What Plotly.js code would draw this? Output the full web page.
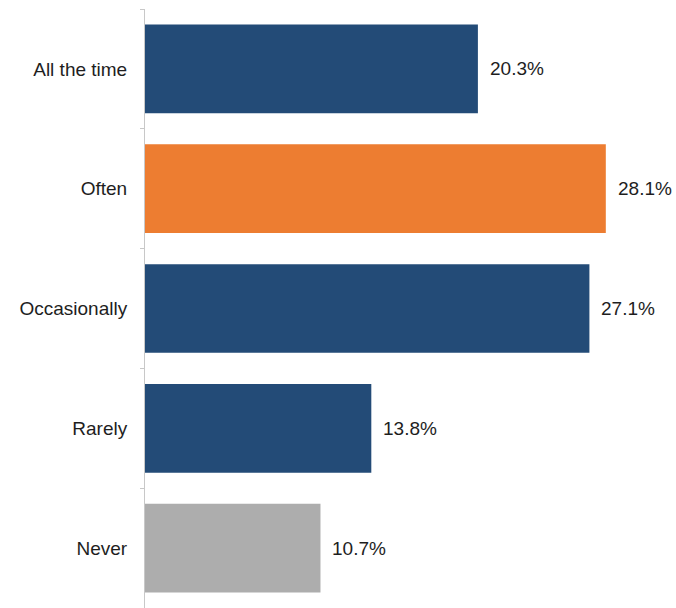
<!DOCTYPE html>
<html>
<head>
<meta charset="utf-8">
<script src="https://cdn.plot.ly/plotly-3.0.1.min.js"></script>
<style>html,body{margin:0;padding:0;background:#fff;}#chart{width:676px;height:608px;}</style>
</head>
<body>
<div id="chart"></div>
<script>
const categories = ["All the time", "Often", "Occasionally", "Rarely", "Never"];
const values = [20.3, 28.1, 27.1, 13.8, 10.7];
const valueLabels = ["20.3%", "28.1%", "27.1%", "13.8%", "10.7%"];
const barColors = ["#234B77", "#ED7D31", "#234B77", "#234B77", "#ADADAD"];

const fontFam = "Liberation Sans, Arial, sans-serif";

const trace = {
  type: "bar",
  orientation: "h",
  y: categories,
  x: values,
  marker: { color: barColors, line: { width: 0 } },
  hoverinfo: "none"
};

const annotations = categories.map((c, i) => ({
  x: values[i], y: c, xref: "x", yref: "y",
  text: valueLabels[i], showarrow: false,
  xanchor: "left", yanchor: "middle", xshift: 10,
  font: { family: fontFam, size: 19, color: "#1e1e1e" }
}));

const layout = {
  width: 676, height: 608,
  margin: { l: 145, r: 0, t: 9, b: 0 },
  paper_bgcolor: "#fff", plot_bgcolor: "#fff",
  bargap: 0.26,
  showlegend: false,
  xaxis: { range: [0, 32.38], visible: false, fixedrange: true },
  yaxis: {
    autorange: "reversed",
    showline: true, linecolor: "#c8c8c8", linewidth: 1,
    ticks: "outside", tickson: "boundaries", ticklen: 4, tickcolor: "#c8c8c8",
    showgrid: false, zeroline: false,
    ticklabelstandoff: 13,
    tickfont: { family: fontFam, size: 19, color: "#1e1e1e" }
  },
  annotations: annotations
};

Plotly.newPlot("chart", [trace], layout, { staticPlot: true, displayModeBar: false });
</script>
</body>
</html>
